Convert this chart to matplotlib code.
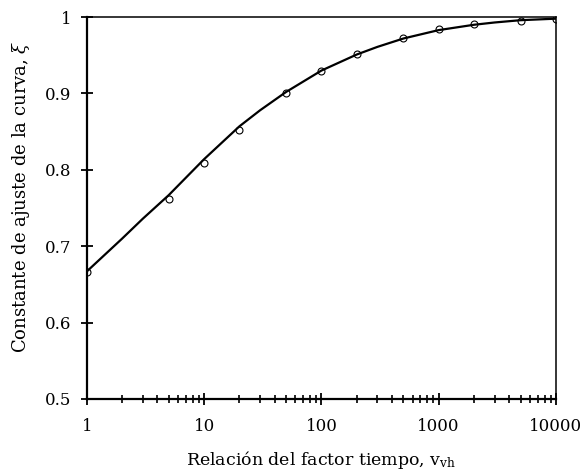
import matplotlib
matplotlib.use("Agg")
import matplotlib.pyplot as plt
from matplotlib.ticker import FixedLocator, LogLocator, NullFormatter

# datos medidos (circulos)
v_puntos = [1, 5, 10, 20, 50, 100, 200, 500, 1000, 2000, 5000, 10000]
xi_puntos = [0.666, 0.762, 0.809, 0.852, 0.901, 0.930, 0.952, 0.973, 0.984, 0.991, 0.995, 0.997]

# curva de ajuste
v_curva = [1, 2, 3, 5, 10, 20, 30, 50, 100, 200, 300, 500, 1000, 2000, 3000, 5000, 10000]
xi_curva = [0.667, 0.710, 0.736, 0.767, 0.814, 0.857, 0.878, 0.902, 0.930, 0.951, 0.961,
            0.972, 0.983, 0.990, 0.993, 0.996, 0.998]

x_ticks = [1, 10, 100, 1000, 10000]
x_labels = ["1", "10", "100", "1000", "10000"]
y_ticks = [0.5, 0.6, 0.7, 0.8, 0.9, 1.0]
y_labels = ["0.5", "0.6", "0.7", "0.8", "0.9", "1"]

plt.rcParams['font.family'] = ['DejaVu Serif']
plt.rcParams['mathtext.fontset'] = 'dejavuserif'

fig = plt.figure(figsize=(5.87, 4.76), dpi=100)
ax = fig.add_axes([0.148, 0.162, 0.799, 0.802])

ax.plot(v_curva, xi_curva, color='black', lw=1.6, zorder=2)
ax.plot(v_puntos, xi_puntos, linestyle='none', marker='o', ms=5,
        mfc='none', mec='black', mew=0.8, zorder=3)

ax.set_xscale('log')
ax.set_xlim(1, 10000)
ax.set_ylim(0.5, 1.0)

ax.xaxis.set_major_locator(FixedLocator(x_ticks))
ax.set_xticklabels(x_labels)
ax.xaxis.set_minor_locator(LogLocator(base=10, subs=range(2, 10)))
ax.xaxis.set_minor_formatter(NullFormatter())
ax.set_yticks(y_ticks)
ax.set_yticklabels(y_labels)

ax.tick_params(axis='both', which='major', direction='inout', length=8, width=1.3,
               labelsize=12, pad=7)
ax.tick_params(axis='x', which='major', pad=10)
ax.tick_params(axis='x', which='minor', direction='inout', length=6, width=1.2)

for s in ['left', 'bottom']:
    ax.spines[s].set_linewidth(1.6)
for s in ['top', 'right']:
    ax.spines[s].set_linewidth(1.1)

ax.set_xlabel(r'Relación del factor tiempo, $\mathregular{v_{vh}}$', fontsize=12.5, labelpad=10)
ax.set_ylabel(r'Constante de ajuste de la curva, $\xi$', fontsize=13, labelpad=9)
ax.yaxis.set_label_coords(-0.118, 0.53)

fig.savefig('out.png', dpi=100)
